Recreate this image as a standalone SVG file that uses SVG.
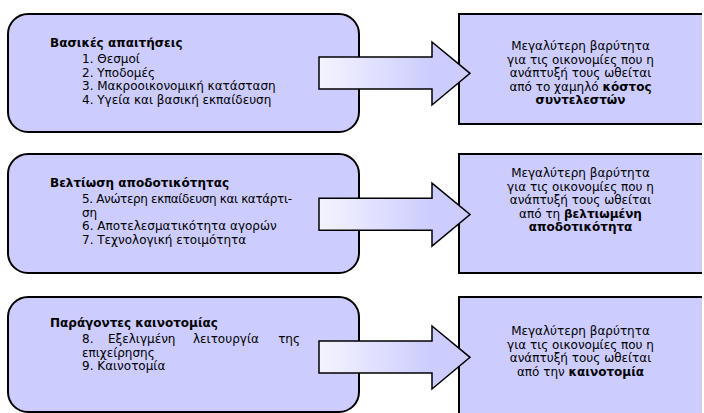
<svg xmlns="http://www.w3.org/2000/svg" width="704" height="413" viewBox="0 0 704 413">
<defs>
<style>
.lbox{fill:#ccccff;stroke:#000;stroke-width:2}
.rfill{fill:#ccccff}
.redge{fill:none;stroke:#000;stroke-width:2}
.arrow{fill:url(#ag);stroke:#000;stroke-width:1.5;stroke-linejoin:miter}
text{font-family:"DejaVu Sans","Liberation Sans",sans-serif;font-size:12px;fill:#000}
.h{font-weight:bold}
.b{font-weight:bold}
.c{text-anchor:middle}
.e{text-anchor:end}
</style>
<linearGradient id="ag" x1="0" y1="0" x2="1" y2="0">
<stop offset="0" stop-color="#f4f4ff"/>
<stop offset="0.75" stop-color="#ccccff"/>
<stop offset="1" stop-color="#ccccff"/>
</linearGradient>
<path id="arr" d="M319,57 L432,57 L432,42 L470,73.3 L432,105 L432,89 L319,89 Z"/>
</defs>
<rect width="704" height="413" fill="#fff"/>

<g id="basic">
<rect class="lbox" x="8" y="14" width="351" height="118" rx="20" ry="20"/>
<text class="h" x="50" y="47">Βασικές απαιτήσεις</text>
<text x="82" y="63">1. Θεσμοί</text>
<text x="82" y="76.5">2. Υποδομές</text>
<text x="82" y="90">3. Μακροοικονομική κατάσταση</text>
<text x="82" y="103.5">4. Υγεία και βασική εκπαίδευση</text>
</g>

<g id="efficiency">
<rect class="lbox" x="8" y="154" width="351" height="119" rx="20" ry="20"/>
<text class="h" x="50" y="187">Βελτίωση αποδοτικότητας</text>
<text x="82" y="203" textLength="210" lengthAdjust="spacing">5. Ανώτερη εκπαίδευση και κατάρτι-</text>
<text x="82" y="216.5">ση</text>
<text x="82" y="230">6. Αποτελεσματικότητα αγορών</text>
<text x="82" y="243.5">7. Τεχνολογική ετοιμότητα</text>
</g>

<g id="innovation">
<rect class="lbox" x="8" y="297" width="351" height="115" rx="20" ry="20"/>
<text class="h" x="50" y="327">Παράγοντες καινοτομίας</text>
<text x="82" y="343">8.</text>
<text x="108" y="343">Εξελιγμένη</text>
<text x="193" y="343">λειτουργία</text>
<text class="e" x="300" y="343">της</text>
<text x="82" y="356.5">επιχείρησης</text>
<text x="82" y="370">9. Καινοτομία</text>
</g>

<g id="out1">
<rect class="rfill" x="459" y="14" width="243" height="110"/>
<path class="redge" d="M702,14 H459 V124 H702"/>
<text class="c" x="580.5" y="50">Μεγαλύτερη βαρύτητα</text>
<text class="c" x="580.5" y="63.5">για τις οικονομίες που η</text>
<text class="c" x="580.5" y="77">ανάπτυξή τους ωθείται</text>
<text class="c" x="580.5" y="90.5">από το χαμηλό <tspan class="b">κόστος</tspan></text>
<text class="c b" x="580.5" y="104">συντελεστών</text>
</g>

<g id="out2">
<rect class="rfill" x="459" y="154" width="243" height="119"/>
<path class="redge" d="M702,154 H459 V273 H702"/>
<text class="c" x="580.5" y="177">Μεγαλύτερη βαρύτητα</text>
<text class="c" x="580.5" y="190.5">για τις οικονομίες που η</text>
<text class="c" x="580.5" y="204">ανάπτυξή τους ωθείται</text>
<text class="c" x="580.5" y="217.5">από τη <tspan class="b">βελτιωμένη</tspan></text>
<text class="c b" x="580.5" y="231">αποδοτικότητα</text>
</g>

<g id="out3">
<rect class="rfill" x="459" y="297" width="243" height="120"/>
<path class="redge" d="M702,297 H459 V420"/>
<text class="c" x="580.5" y="335">Μεγαλύτερη βαρύτητα</text>
<text class="c" x="580.5" y="348.5">για τις οικονομίες που η</text>
<text class="c" x="580.5" y="362">ανάπτυξή τους ωθείται</text>
<text class="c" x="580.5" y="375.5">από την <tspan class="b">καινοτομία</tspan></text>
</g>

<g id="connectors">
<use href="#arr" class="arrow"/>
<use href="#arr" class="arrow" transform="translate(0,141.2)"/>
<use href="#arr" class="arrow" transform="translate(0,284)"/>
</g>
</svg>
